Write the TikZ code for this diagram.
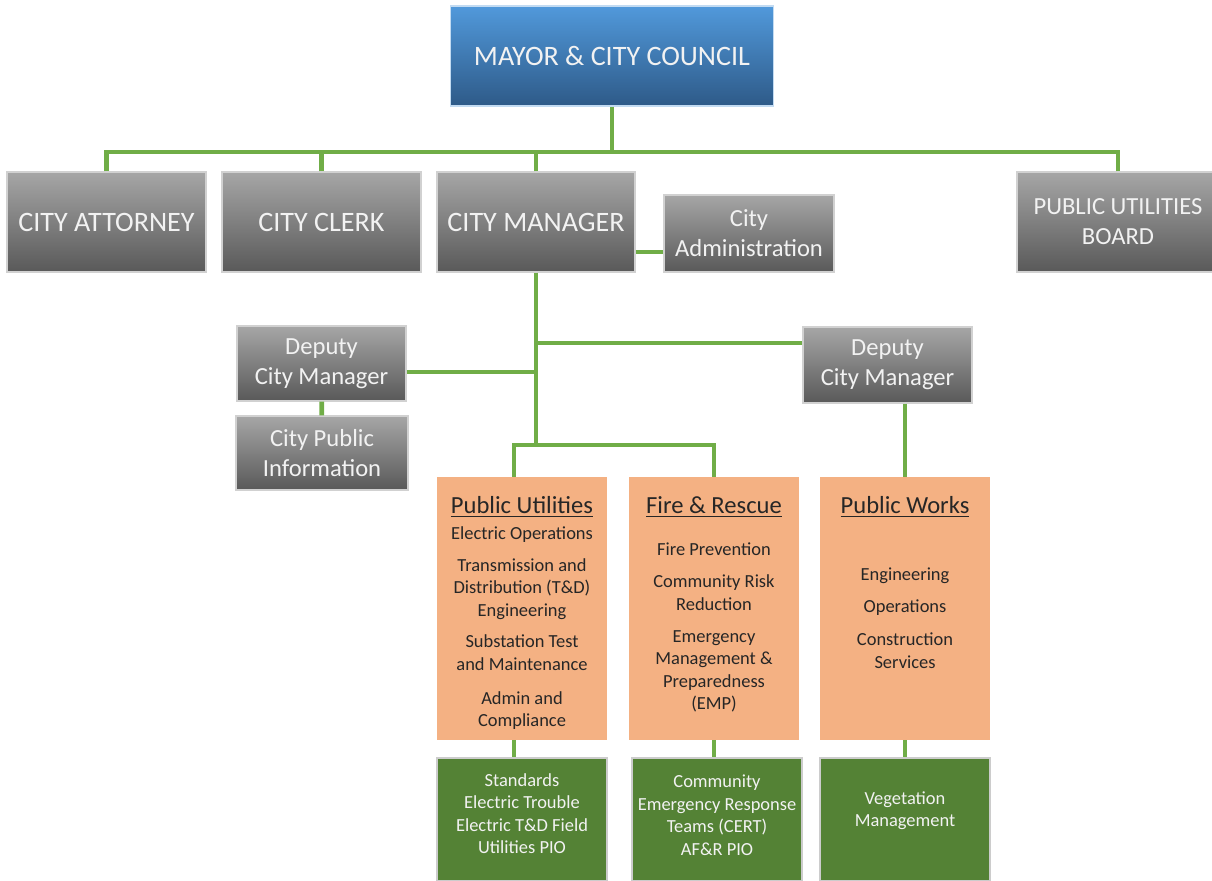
\documentclass[tikz,border=0pt]{standalone}
\usepackage{fontspec}
\setmainfont{Carlito}
\definecolor{linkgreen}{HTML}{70AD47}
\definecolor{blueup}{HTML}{5199DB}
\definecolor{bluedown}{HTML}{2E5A88}
\definecolor{grayup}{HTML}{A6A6A6}
\definecolor{graydown}{HTML}{595959}
\definecolor{unitorange}{HTML}{F4B183}
\definecolor{teamgreen}{HTML}{548235}
\definecolor{offwhite}{HTML}{F2F2F2}
\tikzset{
  office/.style={draw=white!82!black, line width=0.7pt, shading=axis,
    top color=grayup, bottom color=graydown, text=offwhite, align=center, inner sep=2pt},
  council/.style={office, top color=blueup, bottom color=bluedown, draw=blueup!35!white},
  bigcaps/.style={font=\fontsize{16}{19}\selectfont},
  smalltext/.style={font=\fontsize{14}{17}\selectfont},
  unit/.style={fill=unitorange, inner sep=0pt, text=black!85,
    minimum width=3.4cm, minimum height=5.26cm},
  team/.style={fill=teamgreen, draw=white!80!black, line width=0.7pt, text=offwhite,
    align=center, minimum width=3.4cm, minimum height=2.46cm,
    font=\fontsize{10.5}{12.8}\selectfont},
  link/.style={draw=linkgreen, line width=2.7pt}
}
\begin{document}
\begin{tikzpicture}[x=0.02cm,y=-0.02cm]
  \useasboundingbox (0,0) rectangle (1212,881);
  % top level
  \node[council, bigcaps, minimum width=6.46cm, minimum height=2cm] (mayor) at (612,56) {MAYOR \& CITY COUNCIL};
  \node[office, bigcaps, minimum width=3.98cm, minimum height=2cm] (attorney) at (106.5,222) {CITY ATTORNEY};
  \node[office, bigcaps, minimum width=3.98cm, minimum height=2cm] (clerk) at (321.5,222) {CITY CLERK};
  \node[office, bigcaps, minimum width=3.96cm, minimum height=2cm] (manager) at (536,222) {CITY MANAGER};
  \node[office, smalltext, minimum width=3.4cm, minimum height=1.54cm] (admin) at (749,233.5) {City\\Administration};
  \node[office, smalltext, minimum width=4.04cm, minimum height=2cm] (board) at (1118,222) {PUBLIC UTILITIES\\BOARD};
  % deputies
  \node[office, smalltext, minimum width=3.38cm, minimum height=1.5cm] (deputyL) at (321.5,363.5) {Deputy\\City Manager};
  \node[office, smalltext, minimum width=3.44cm, minimum height=1.48cm] (publicinfo) at (322,453) {City Public\\Information};
  \node[office, smalltext, minimum width=3.38cm, minimum height=1.52cm] (deputyR) at (887.5,365) {Deputy\\City Manager};
  % departments
  \node[unit] (utilities) at (522,608.5) {\parbox[c][5.26cm][t]{3.4cm}{\centering
    \vspace*{11pt}{\fontsize{14}{17}\selectfont\underline{Public Utilities}\par}
    \fontsize{10.5}{12.8}\selectfont\vspace{1.9pt}
    Electric Operations\\[5.3pt]
    Transmission and\\Distribution (T\&D)\\Engineering\\[5.3pt]
    Substation Test\\and Maintenance\\[6.5pt]
    Admin and\\Compliance\par}};
  \node[unit] (fire) at (714,608.5) {\parbox[c][5.26cm][t]{3.4cm}{\centering
    \vspace*{11pt}{\fontsize{14}{17}\selectfont\underline{Fire \& Rescue}\par}
    \fontsize{10.5}{12.8}\selectfont\vspace{11pt}
    Fire Prevention\\[5.9pt]
    Community Risk\\Reduction\\[5.3pt]
    Emergency\\Management \&\\Preparedness\\(EMP)\par}};
  \node[unit] (works) at (905,608.5) {\parbox[c][5.26cm][t]{3.4cm}{\centering
    \vspace*{11pt}{\fontsize{14}{17}\selectfont\underline{Public Works}\par}
    \fontsize{10.5}{12.8}\selectfont\vspace{25.2pt}
    Engineering\\[5.3pt]
    Operations\\[6.5pt]
    Construction\\Services\par}};
  % teams
  \node[team] (standards) at (522,819.5) {Standards\\Electric Trouble\\Electric T\&D Field\\Utilities PIO\\[-6pt]};
  \node[team] (cert) at (717,819.5) {Community\\Emergency Response\\Teams (CERT)\\AF\&R PIO\\[-8pt]};
  \node[team] (vegetation) at (905,819.5) {Vegetation\\Management\\[-1pt]};
  % connectors
  \coordinate (bus) at (612,152);
  \coordinate (row1) at (0,252);
  \coordinate (row2) at (0,343);
  \coordinate (row3) at (0,372);
  \coordinate (row4) at (0,445);
  \draw[link] (mayor.south) -- (bus);
  \foreach \n in {attorney,clerk,manager,board}
    \draw[link] (\n.north) |- (bus);
  \draw[link] (manager.east |- row1) -- (admin.west |- row1);
  \draw[link] (manager.south) -- (manager.south |- row4);
  \draw[link] (manager.south |- row2) -- (deputyR.west |- row2);
  \draw[link] (deputyL.east |- row3) -- (manager.south |- row3);
  \draw[link] (deputyL) -- (publicinfo);
  \draw[link] ([xshift=-0.16cm]utilities.north) |- (manager.south |- row4) -| (fire.north);
  \draw[link] (deputyR.south -| works.north) -- (works.north);
  \draw[link] ([xshift=-0.16cm]utilities.south) -- ([xshift=-0.16cm]standards.north);
  \draw[link] (fire.south) -- (fire.south |- cert.north);
  \draw[link] (works) -- (vegetation);
\end{tikzpicture}
\end{document}
